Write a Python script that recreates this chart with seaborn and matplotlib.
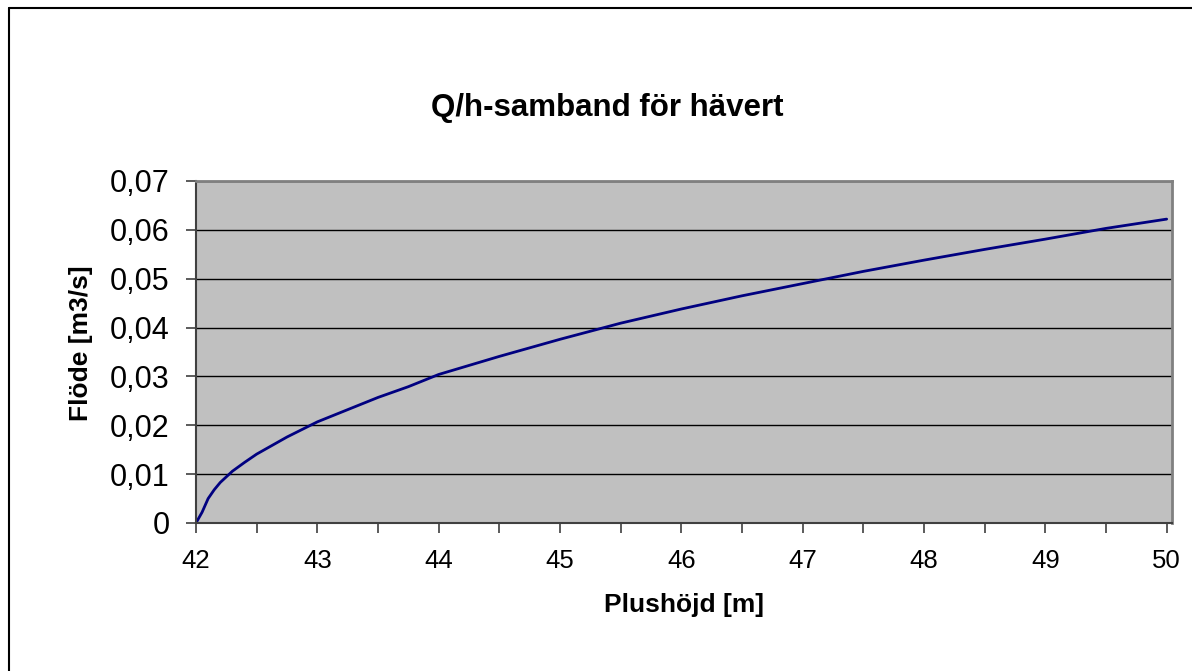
import matplotlib
matplotlib.use("Agg")
import matplotlib.pyplot as plt
from matplotlib.lines import Line2D
from matplotlib.ticker import MultipleLocator, FuncFormatter
import seaborn as sns
import pandas as pd

# Siphon discharge curve: water level (m) against flow (m3/s)
plushojd = [42.0, 42.05, 42.1, 42.15, 42.2, 42.3, 42.4, 42.5, 42.75, 43.0,
            43.25, 43.5, 43.75, 44.0, 44.5, 45.0, 45.5, 46.0, 46.5, 47.0,
            47.5, 48.0, 48.5, 49.0, 49.5, 50.0]
flode = [0.0, 0.0022, 0.0050, 0.0068, 0.0083, 0.0106, 0.0124, 0.0141, 0.0176, 0.0207,
         0.0232, 0.0257, 0.0279, 0.0304, 0.0341, 0.0376, 0.0409, 0.0438, 0.0465, 0.0490,
         0.0515, 0.0538, 0.0560, 0.0581, 0.0603, 0.0622]

title = "Q/h-samband för hävert"
xlabel = "Plushöjd [m]"
ylabel = "Flöde [m3/s]"

df = pd.DataFrame({"h": plushojd, "Q": flode})

sns.set_style("white")
plt.rcParams["font.family"] = ["Liberation Sans", "DejaVu Sans"]
plt.rcParams["text.color"] = "black"
plt.rcParams["xtick.labelcolor"] = "black"
plt.rcParams["ytick.labelcolor"] = "black"

W, H = 1192, 671
fig = plt.figure(figsize=(W / 100, H / 100), dpi=100)
fig.patch.set_facecolor("white")

ax = fig.add_axes([196 / W, 1 - 523 / H, (1172 - 196) / W, (523 - 181) / H])
ax.set_facecolor("#C0C0C0")

sns.lineplot(data=df, x="h", y="Q", ax=ax, color="#000080", linewidth=2.0,
             estimator=None, sort=False)

ax.set_xlim(42, 50.044)
ax.set_ylim(0, 0.07)

ax.xaxis.set_major_locator(MultipleLocator(1))
ax.xaxis.set_minor_locator(MultipleLocator(0.5))
ax.yaxis.set_major_locator(MultipleLocator(0.01))


def comma_fmt(v, pos):
    if abs(v) < 1e-12:
        return "0"
    return f"{v:.2f}".replace(".", ",")


ax.yaxis.set_major_formatter(FuncFormatter(comma_fmt))
ax.xaxis.set_major_formatter(FuncFormatter(lambda v, p: f"{v:.0f}"))

ax.grid(axis="y", color="black", linewidth=1.0)
ax.grid(axis="x", visible=False)
ax.set_axisbelow(True)

ax.tick_params(axis="x", which="both", direction="out", length=7, width=1.2,
               color="#404040", labelcolor="black", labelsize=18.5, pad=12,
               bottom=True)
ax.tick_params(axis="y", which="major", direction="out", length=7, width=1.2,
               color="#404040", labelcolor="black", labelsize=22, pad=12,
               left=True)

for side in ("top", "right"):
    ax.spines[side].set_color("#808080")
    ax.spines[side].set_linewidth(2.0)
for side in ("left", "bottom"):
    ax.spines[side].set_color("#404040")
    ax.spines[side].set_linewidth(1.5)

ax.set_xlabel("")
ax.set_ylabel("")

fig.text(607.5 / W, 1 - 108 / H, title, ha="center", va="center",
         fontsize=22.5, fontweight="bold", color="black")
fig.text(684 / W, 1 - 605 / H, xlabel, ha="center", va="center",
         fontsize=19, fontweight="bold", color="black")
fig.text(81 / W, 1 - 343 / H, ylabel, ha="center", va="center",
         fontsize=19, fontweight="bold", rotation=90, color="black")

# Chart frame (left and top edges)
fig.add_artist(Line2D([9 / W, 9 / W], [0, 1 - 8 / H], transform=fig.transFigure,
                      color="black", linewidth=1.5))
fig.add_artist(Line2D([9 / W, 1], [1 - 8 / H, 1 - 8 / H], transform=fig.transFigure,
                      color="black", linewidth=1.5))

fig.savefig("out.png", dpi=100, facecolor="white")
